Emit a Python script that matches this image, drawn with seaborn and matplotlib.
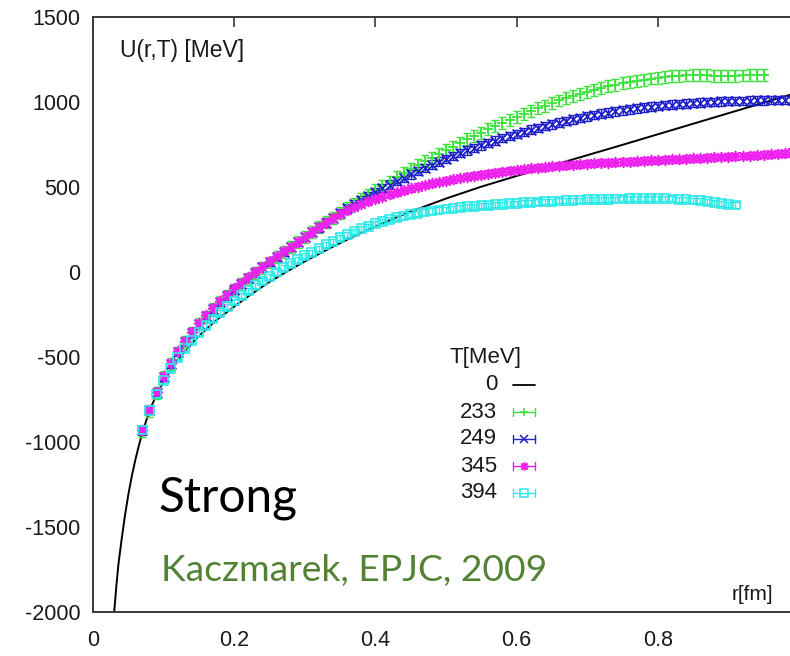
import numpy as np
import pandas as pd
import matplotlib
matplotlib.use("Agg")
import matplotlib.pyplot as plt
import seaborn as sns

# ---- data -----------------------------------------------------------------
# lattice separations start at R0 and step by DR (fm)
R0, DR = 0.07, 0.01

# U(r,T) in MeV for each temperature, one value per separation
u_233 = [-935, -815, -710, -620, -542, -474, -413, -358, -308, -262,
         -219, -179, -141, -105, -71, -38, -6, 25, 56, 86,
         116, 146, 175, 204, 234, 263, 292, 320, 348, 375,
         402, 428, 455, 481, 507, 532, 557, 581, 605, 628,
         651, 673, 695, 717, 738, 759, 780, 800, 820, 839,
         858, 877, 895, 913, 930, 947, 963, 979, 994, 1009,
         1023, 1036, 1049, 1061, 1072, 1083, 1093, 1102, 1111, 1119,
         1126, 1132, 1138, 1143, 1147, 1151, 1154, 1156, 1158, 1158,
         1157, 1155, 1154, 1154, 1155, 1156, 1157, 1158, 1158]
u_249 = [-932, -813, -709, -619, -540, -472, -411, -356, -306, -260,
         -217, -177, -139, -103, -69, -36, -4, 27, 58, 88,
         118, 147, 176, 205, 234, 263, 291, 319, 347, 374,
         400, 424, 448, 471, 493, 514, 535, 555, 575, 594,
         613, 631, 649, 666, 683, 699, 715, 730, 745, 759,
         773, 787, 800, 813, 825, 837, 848, 859, 869, 879,
         889, 898, 907, 915, 923, 931, 938, 945, 951, 957,
         963, 968, 973, 977, 981, 985, 988, 991, 994, 997,
         999, 1001, 1003, 1005, 1006, 1007, 1008, 1009, 1010, 1011,
         1011, 1012, 1012, 1013]
u_345 = [-930, -810, -705, -614, -535, -466, -405, -350, -300, -254,
         -211, -171, -133, -97, -63, -31, 1, 32, 62, 92,
         121, 150, 179, 207, 236, 264, 291, 317, 342, 364,
         383, 400, 416, 430, 444, 457, 469, 481, 492, 502,
         512, 521, 530, 538, 546, 553, 560, 567, 573, 579,
         585, 590, 595, 600, 605, 609, 613, 617, 621, 625,
         628, 631, 634, 637, 640, 642, 644, 646, 648, 650,
         652, 654, 656, 658, 660, 662, 664, 666, 668, 670,
         672, 674, 676, 678, 680, 682, 684, 686, 689, 692,
         695, 699, 703, 707]
u_394 = [-930, -815, -718, -636, -566, -505, -451, -402, -357, -315,
         -276, -239, -204, -171, -140, -110, -81, -53, -26, 0,
         25, 49, 72, 95, 117, 139, 160, 181, 201, 220,
         238, 254, 269, 283, 296, 308, 319, 329, 338, 346,
         353, 359, 365, 370, 375, 379, 383, 387, 390, 393,
         396, 399, 402, 405, 408, 410, 412, 414, 416, 418,
         420, 422, 423, 425, 426, 427, 428, 429, 430, 431,
         431, 432, 432, 432, 431, 430, 428, 426, 423, 420,
         416, 411, 405, 399, 394]

# statistical errors (MeV)
err_233, err_249, err_345, err_394 = 35, 25, 20, 15

# zero-temperature potential
r_t0 = [0.028, 0.030, 0.033, 0.036, 0.040, 0.045, 0.050, 0.055, 0.060, 0.065,
        0.070, 0.080, 0.090, 0.100, 0.110, 0.120, 0.135, 0.150, 0.175, 0.200,
        0.225, 0.250, 0.275, 0.300, 0.325, 0.350, 0.375, 0.400, 0.425, 0.450,
        0.500, 0.550, 0.600, 0.650, 0.700, 0.750, 0.800, 0.850, 0.900, 0.950, 1.000]
u_t0 = [-2110, -2000, -1850, -1720, -1590, -1440, -1310, -1200, -1105, -1020,
        -945, -815, -722, -645, -578, -518, -442, -376, -282, -203,
        -128, -58, 4, 62, 118, 170, 221, 268, 313, 355,
        432, 502, 565, 626, 687, 748, 810, 872, 934, 996, 1058]

temps = ["0", "233", "249", "345", "394"]
x_ticks = [0, 0.2, 0.4, 0.6, 0.8]
y_ticks = [-2000, -1500, -1000, -500, 0, 500, 1000, 1500]

# ---- style ----------------------------------------------------------------
sns.set_theme(style="white")
plt.rcParams["font.family"] = ["Liberation Sans", "DejaVu Sans"]
plt.rcParams["axes.unicode_minus"] = False

W, H = 790, 656
fig = plt.figure(figsize=(W / 100, H / 100), dpi=100)
# axes spans r = 0..1; the right edge runs past the canvas
x0_px, x1_px, ytop_px, ybot_px = 93, 799, 17, 612
ax = fig.add_axes([x0_px / W, 1 - ybot_px / H, (x1_px - x0_px) / W, (ybot_px - ytop_px) / H])

series = [
    ("233", u_233, err_233, "#3de23d", "+", 1.3),
    ("249", u_249, err_249, "#2020c8", "x", 1.3),
    ("345", u_345, err_345, "#ee22ee", (8, 2, 0), 1.2),
    ("394", u_394, err_394, "#2ee8e8", "s", 1.2),
]

frames = []
for label, u, e, *_ in series:
    r = R0 + DR * np.arange(len(u))
    frames.append(pd.DataFrame({"r": r, "U": u, "err": e, "T": label}))
data = pd.DataFrame(pd.concat(frames, ignore_index=True))
t0 = pd.DataFrame({"r": r_t0, "U": u_t0})

sns.lineplot(data=t0, x="r", y="U", color="black", lw=1.4, ax=ax, zorder=2)

for label, u, e, color, marker, mlw in series:
    d = data[data["T"] == label]
    ax.errorbar(d["r"], d["U"], yerr=d["err"], fmt="none", ecolor=color,
                elinewidth=1.0, capsize=2.8, capthick=1.0, zorder=3)
    if marker == "s":
        sns.scatterplot(x=d["r"], y=d["U"], marker="s", s=40, facecolors="none",
                        edgecolor=color, linewidth=mlw, ax=ax, zorder=4, legend=False)
    else:
        sns.scatterplot(x=d["r"], y=d["U"], marker=marker, s=50, color=color,
                        linewidth=mlw, ax=ax, zorder=4, legend=False)

ax.set_xlim(0, 1)
ax.set_ylim(-2000, 1500)
ax.set_xticks(x_ticks)
ax.set_xticklabels(["0", "0.2", "0.4", "0.6", "0.8"])
ax.set_yticks(y_ticks)
ax.set_xlabel("")
ax.set_ylabel("")
for sp in ax.spines.values():
    sp.set_color("#3a3a3a")
    sp.set_linewidth(1.4)
ax.tick_params(axis="both", direction="in", length=7, width=1.2, color="#3a3a3a",
               top=True, right=False, labelsize=15.5, labelcolor="#1a1a1a")
ax.tick_params(axis="x", pad=13)
ax.tick_params(axis="y", pad=9)

# axis captions inside the frame
fig.text(120 / W, 1 - 50 / H, "U(r,T) [MeV]", fontsize=16.5, color="#1a1a1a",
         ha="left", va="center")
fig.text(752 / W, 1 - 594 / H, "r[fm]", fontsize=15, color="#1a1a1a",
         ha="center", va="center")

# key
fig.text(485 / W, 1 - 358 / H, "T[MeV]", fontsize=16, color="#1a1a1a",
         ha="center", va="center")
key_y = [385, 412, 439, 466, 493]
key_colors = ["black"] + [s[3] for s in series]
key_markers = [None] + [s[4] for s in series]
for lab, ky, col, mk in zip(temps, key_y, key_colors, key_markers):
    yf = 1 - ky / H
    fig.text(497 / W, yf, lab, fontsize=16, color="#1a1a1a", ha="right", va="center")
    xa, xb = 513 / W, 535 / W
    fig.add_artist(plt.Line2D([xa, xb], [yf, yf], color=col, lw=1.3 if mk is None else 1.0,
                              transform=fig.transFigure))
    if mk is not None:
        cap = 4 / H
        for xc in (xa, xb):
            fig.add_artist(plt.Line2D([xc, xc], [yf - cap, yf + cap], color=col, lw=1.0,
                                      transform=fig.transFigure))
        fig.add_artist(plt.Line2D([(xa + xb) / 2], [yf], color=col, marker=mk,
                                  ms=6, mew=1.1, mfc="none", ls="none",
                                  transform=fig.transFigure))

# annotation
def fit_text(x_px, y_px, s, width_px, color, family):
    t = fig.text(x_px / W, 1 - y_px / H, s, fontsize=30, color=color,
                 family=family, ha="left", va="baseline")
    fig.canvas.draw()
    w = t.get_window_extent().width
    t.set_fontsize(30 * width_px / w)
    return t

fit_text(158, 512, "Strong", 139, "black", ["Lato", "DejaVu Sans"])
fit_text(161, 581, "Kaczmarek, EPJC, 2009", 385, "#548235", ["Lato", "DejaVu Sans"])

fig.savefig("out.png", dpi=100)
